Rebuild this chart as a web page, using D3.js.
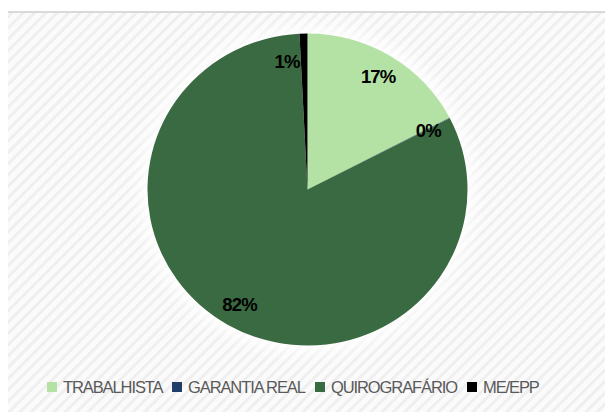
<!DOCTYPE html>
<html>
<head>
<meta charset="utf-8">
<script src="https://cdn.jsdelivr.net/npm/d3@7"></script>
<style>
  body { margin: 0; background: #fff; }
  svg { display: block; }
</style>
</head>
<body>
<svg width="605" height="412"></svg>
<script>
const categories = ["TRABALHISTA", "GARANTIA REAL", "QUIROGRAFÁRIO", "ME/EPP"];
const values = [17.4, 0.05, 81.75, 0.8];
const pctLabels = ["17%", "0%", "82%", "1%"];
const colors = ["#b3e2a4", "#1f3f69", "#3a6a41", "#000000"];

const width = 605, height = 412;
const cx = 307.5, cy = 189.5, radius = 160;

const svg = d3.select("svg");

// hatched background
const defs = svg.append("defs");
const pat = defs.append("pattern")
    .attr("id", "hatch")
    .attr("patternUnits", "userSpaceOnUse")
    .attr("width", 8).attr("height", 8)
    .attr("patternTransform", "rotate(45)");
pat.append("rect").attr("width", 8).attr("height", 8).attr("fill", "#fbfbfb");
pat.append("rect").attr("width", 3).attr("height", 8).attr("fill", "#efefef");

const glow = defs.append("filter").attr("id", "glow")
    .attr("x", "-30%").attr("y", "-30%").attr("width", "160%").attr("height", "160%");
glow.append("feGaussianBlur").attr("stdDeviation", 8);

svg.append("rect")
    .attr("x", 8).attr("y", 12)
    .attr("width", width - 8).attr("height", height - 12)
    .attr("fill", "url(#hatch)");
svg.append("rect")
    .attr("x", 8).attr("y", 11)
    .attr("width", width - 8).attr("height", 2)
    .attr("fill", "#d9d9d9");

const g = svg.append("g").attr("transform", `translate(${cx},${cy})`);
const pg = g.append("g").attr("transform", "scale(1,0.975)");

pg.append("circle")
    .attr("r", radius + 6)
    .attr("fill", "#ffffff")
    .attr("filter", "url(#glow)");

const data = categories.map((c, i) => ({name: c, value: values[i], label: pctLabels[i], color: colors[i]}));

const pie = d3.pie().value(d => d.value).sort(null);
const arc = d3.arc().innerRadius(0).outerRadius(radius);
const labelArc = d3.arc().innerRadius(136).outerRadius(136);

const arcs = pie(data);

pg.selectAll("path.slice").data(arcs).enter().append("path")
    .attr("class", "slice")
    .attr("d", arc)
    .attr("fill", d => d.data.color);

// small slices get their labels pushed aside like excel does
const labelShift = {"ME/EPP": [-17, 5], "GARANTIA REAL": [0, 2]};

g.selectAll("text.lbl").data(arcs).enter().append("text")
    .attr("class", "lbl")
    .attr("transform", d => {
        const c = labelArc.centroid(d);
        const s = labelShift[d.data.name] || [0, 0];
        return `translate(${c[0] + s[0]},${c[1] * 0.975 + s[1]})`;
    })
    .attr("text-anchor", "middle")
    .attr("dy", "0.35em")
    .attr("font-family", "Arial, 'Liberation Sans', sans-serif")
    .attr("font-weight", "bold")
    .attr("font-size", "18.5px")
    .attr("letter-spacing", "-0.8px")
    .attr("fill", "#000")
    .text(d => d.data.label);

// legend
const legendX = [47, 172, 315, 467];
const legend = svg.append("g").attr("transform", "translate(0,382)");
const items = legend.selectAll("g").data(data).enter().append("g")
    .attr("transform", (d, i) => `translate(${legendX[i]},0)`);
items.append("rect")
    .attr("width", 10).attr("height", 10)
    .attr("fill", d => d.color);
items.append("text")
    .attr("x", 16).attr("y", 10.5)
    .attr("font-family", "Arial, 'Liberation Sans', sans-serif")
    .attr("font-size", "16.5px")
    .attr("letter-spacing", "-1.1px")
    .attr("fill", "#595959")
    .text(d => d.name);
</script>
</body>
</html>
